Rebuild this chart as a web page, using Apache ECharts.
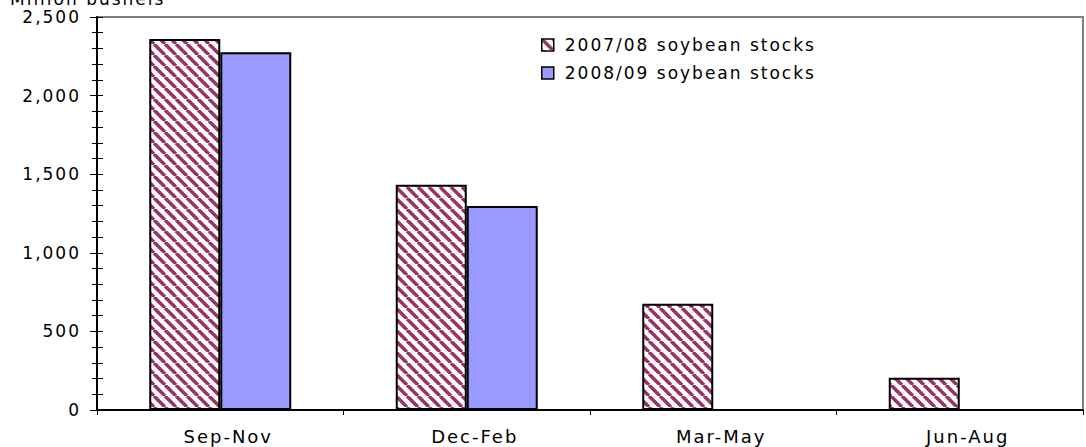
<!DOCTYPE html>
<html>
<head>
<meta charset="utf-8">
<script src="https://cdn.jsdelivr.net/npm/echarts@6/dist/echarts.min.js"></script>
<style>
  html, body { margin: 0; padding: 0; background: #fff; }
  #chart { width: 1086px; height: 447px; }
  /* the original text is drawn wide, so space it out a little */
  #chart svg text { letter-spacing: 2px; }
</style>
</head>
<body>
<div id="chart"></div>
<script>
var categories = ['Sep-Nov', 'Dec-Feb', 'Mar-May', 'Jun-Aug'];
var stocks0708 = [2360, 1433, 676, 205];
var stocks0809 = [2276, 1297, null, null];
var seriesNames = ['2007/08 soybean stocks', '2008/09 soybean stocks'];

// diagonal hatch like the original
function makeHatch() {
  var s = 11;
  var c = document.createElement('canvas');
  c.width = s; c.height = s;
  var ctx = c.getContext('2d');
  ctx.fillStyle = '#ffffff';
  ctx.fillRect(0, 0, s, s);
  ctx.strokeStyle = '#993366';
  ctx.lineWidth = 3.5;
  [-s, 0, s].forEach(function (k) {
    ctx.beginPath();
    ctx.moveTo(k, 0);
    ctx.lineTo(k + s, s);
    ctx.stroke();
  });
  return c;
}

var font = 'DejaVu Sans, sans-serif';
var chart = echarts.init(document.getElementById('chart'), null, { renderer: 'svg' });
var option = {
  animation: false,
  textStyle: { fontFamily: font },
  grid: {
    left: 97, right: 3, top: 17, bottom: 37,
    show: true, borderColor: '#808080', borderWidth: 2
  },
  legend: {
    orient: 'vertical',
    left: 536, top: 31,
    icon: 'rect',
    itemWidth: 12, itemHeight: 12, itemGap: 10,
    data: seriesNames,
    textStyle: { fontSize: 17, lineHeight: 18, color: '#000', fontFamily: font, padding: [0, 0, 0, 6] },
    itemStyle: { borderColor: '#000', borderWidth: 1.5 }
  },
  xAxis: {
    type: 'category',
    data: categories,
    axisLine: { lineStyle: { color: '#000', width: 2 } },
    axisTick: { show: true, length: 5, lineStyle: { color: '#000' } },
    axisLabel: { fontSize: 18, color: '#000', margin: 17, fontFamily: font, padding: [0, 0, 0, 16] }
  },
  yAxis: [{
    type: 'value',
    min: 0, max: 2500, interval: 500,
    axisLine: { show: true, lineStyle: { color: '#000', width: 2 } },
    axisTick: { show: true, length: 7, lineStyle: { color: '#000' } },
    minorTick: { show: true, splitNumber: 5, length: 5, lineStyle: { color: '#000' } },
    splitLine: { show: false },
    axisLabel: {
      fontSize: 17, color: '#000', margin: 16, fontFamily: font,
      formatter: function (v) { return v.toLocaleString('en-US'); }
    }
  }, {
    type: 'value',
    position: 'left',
    min: 0, max: 2500, interval: 500,
    axisLine: { show: false },
    axisTick: { show: true, inside: true, length: 6, lineStyle: { color: '#000' } },
    minorTick: { show: true, splitNumber: 5, length: 6, lineStyle: { color: '#000' } },
    splitLine: { show: false },
    axisLabel: { show: false }
  }],
  graphic: [{
    type: 'text',
    x: 10, y: 7,
    style: {
      text: 'Million bushels', fontSize: 17, fill: '#000', fontFamily: font,
      align: 'left', verticalAlign: 'bottom'
    }
  }],
  series: [{
    name: seriesNames[0],
    type: 'bar',
    data: stocks0708,
    barWidth: 71,
    barGap: '0%',
    itemStyle: {
      color: { image: makeHatch(), repeat: 'repeat' },
      borderColor: '#000', borderWidth: 2
    }
  }, {
    name: seriesNames[1],
    type: 'bar',
    data: stocks0809,
    barWidth: 71,
    itemStyle: { color: '#9999ff', borderColor: '#000', borderWidth: 2 }
  }]
};
chart.setOption(option);
</script>
</body>
</html>
